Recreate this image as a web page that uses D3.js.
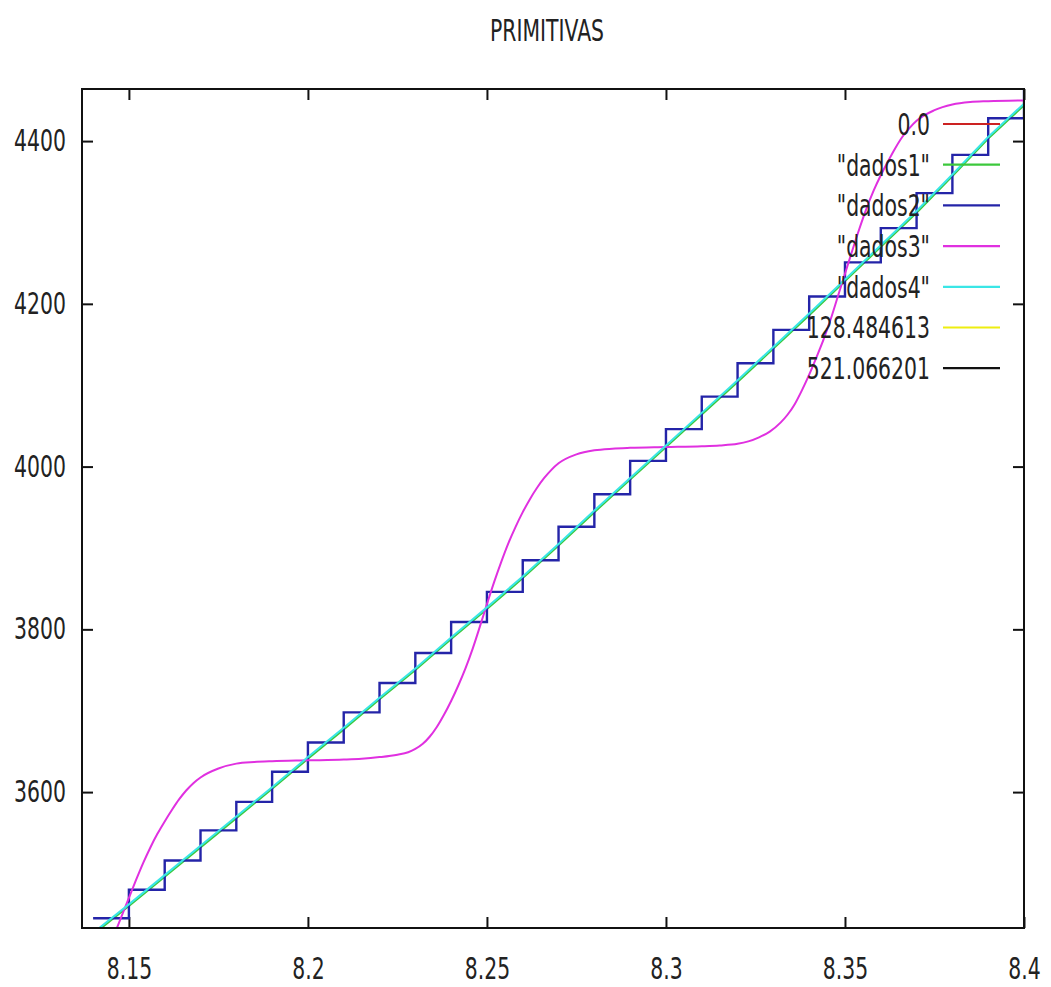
<!DOCTYPE html>
<html>
<head>
<meta charset="utf-8">
<script src="https://cdn.jsdelivr.net/npm/d3@7"></script>
<style>
  html, body { margin: 0; padding: 0; background: #fff; }
  svg { display: block; }
  text { font-family: "DejaVu Sans", sans-serif; fill: #222; }
</style>
</head>
<body>
<svg id="chart" width="1051" height="987"></svg>
<script>
// ---------------- data ----------------
const title = "PRIMITIVAS";
const xTicks = [8.15, 8.2, 8.25, 8.3, 8.35, 8.4];
const xTickLabels = ["8.15", "8.2", "8.25", "8.3", "8.35", "8.4"];
const yTicks = [3600, 3800, 4000, 4200, 4400];
const yTickLabels = ["3600", "3800", "4000", "4200", "4400"];
const xDomain = [8.1369, 8.4];
const yDomain = [3433, 4464];

// sample abscissas for dados1 / dados2 / dados4
const xs = [8.14, 8.15, 8.16, 8.17, 8.18, 8.19, 8.20, 8.21, 8.22, 8.23, 8.24,
            8.25, 8.26, 8.27, 8.28, 8.29, 8.30, 8.31, 8.32, 8.33, 8.34,
            8.35, 8.36, 8.37, 8.38, 8.39, 8.40];
// "dados1" (green) – almost identical to dados4
const dados1 = [3425, 3460, 3496, 3532, 3568, 3604, 3641, 3677, 3714, 3750, 3788,
                3825, 3863, 3903, 3944, 3984, 4024, 4064, 4104, 4145, 4186,
                4228, 4270, 4312, 4357, 4403, 4444];
// "dados2" (blue) – step function
const dados2 = [3445, 3480, 3516, 3553, 3588, 3625, 3661, 3698, 3734, 3771, 3809,
                3846, 3885, 3926, 3966, 4007, 4046, 4086, 4127, 4168, 4209,
                4251, 4293, 4336, 4383, 4428, 4464];
// "dados4" (cyan)
const dados4 = [3427, 3462, 3498, 3534, 3570, 3606, 3643, 3679, 3716, 3752, 3790,
                3827, 3865, 3905, 3946, 3986, 4026, 4066, 4106, 4147, 4188,
                4230, 4272, 4314, 4359, 4405, 4446];
// "dados3" (magenta)
const dados3X = [8.140, 8.142, 8.144, 8.146, 8.148, 8.150, 8.152, 8.154, 8.156, 8.158,
                 8.160, 8.162, 8.164, 8.166, 8.168, 8.170, 8.175, 8.180, 8.185, 8.190,
                 8.200, 8.210, 8.215, 8.220, 8.225, 8.228, 8.230, 8.232, 8.234, 8.236,
                 8.238, 8.240, 8.242, 8.244, 8.246, 8.248, 8.250, 8.252, 8.254, 8.256,
                 8.258, 8.260, 8.262, 8.264, 8.266, 8.268, 8.270, 8.275, 8.280, 8.285,
                 8.290, 8.300, 8.310, 8.315, 8.320, 8.323, 8.326, 8.329, 8.332, 8.334,
                 8.336, 8.338, 8.340, 8.342, 8.344, 8.346, 8.348, 8.350, 8.352, 8.354,
                 8.356, 8.358, 8.360, 8.362, 8.364, 8.366, 8.368, 8.370, 8.375, 8.380,
                 8.385, 8.390, 8.400];
const dados3Y = [3374, 3389, 3406, 3426, 3448, 3470, 3492, 3513, 3532, 3549,
                 3564, 3578, 3591, 3602, 3611, 3618, 3629, 3635, 3637, 3638,
                 3639, 3640, 3641, 3643, 3646, 3649, 3653, 3659, 3668, 3680,
                 3695, 3712, 3731, 3752, 3776, 3803, 3831, 3858, 3883, 3906,
                 3926, 3944, 3960, 3974, 3986, 3996, 4004, 4015, 4020, 4022,
                 4023, 4024, 4025, 4026, 4028, 4031, 4036, 4043, 4054, 4064,
                 4077, 4094, 4113, 4134, 4156, 4181, 4209, 4237, 4265, 4292,
                 4317, 4339, 4358, 4375, 4391, 4405, 4416, 4425, 4438, 4445,
                 4448, 4449, 4450];
// constant functions (outside the visible range)
const constNames = ["0.0", "128.484613", "521.066201"];
const constValues = [0.0, 128.484613, 521.066201];

const legendNames = ["0.0", "\"dados1\"", "\"dados2\"", "\"dados3\"", "\"dados4\"", "128.484613", "521.066201"];
const legendColors = ["#cc2222", "#3cc83c", "#2424a8", "#e030e0", "#3ae6e6", "#eeee10", "#111111"];

// ---------------- drawing ----------------
const SX = 0.68;       // horizontal squeeze of the lettering
const FS = 30;
const svg = d3.select("#chart");
const L = 82, R = 1024, T = 89, B = 928;

const x = d3.scaleLinear().domain(xDomain).range([L, R]);
const y = d3.scaleLinear().domain(yDomain).range([B, T]);

svg.append("defs").append("clipPath").attr("id", "clip")
  .append("rect").attr("x", L).attr("y", T).attr("width", R - L).attr("height", B - T);

// title
svg.append("text")
  .attr("transform", `translate(547,41) scale(${SX},1)`)
  .attr("text-anchor", "middle")
  .style("font-size", FS + "px")
  .text(title);

// axes
function styleAxis(g) {
  g.select(".domain").remove();
  g.selectAll(".tick line").attr("stroke", "#111").attr("stroke-width", 2);
  g.selectAll("text").style("font-size", FS + "px").attr("fill", "#222");
}
const xAxis = svg.append("g").attr("transform", `translate(0,${B})`)
  .call(d3.axisBottom(x).tickValues(xTicks).tickSize(-11)
        .tickFormat((d, i) => xTickLabels[i]).tickPadding(30));
styleAxis(xAxis);
xAxis.selectAll("text").attr("transform", `scale(${SX},1)`);

const xAxisTop = svg.append("g").attr("transform", `translate(0,${T})`)
  .call(d3.axisTop(x).tickValues(xTicks).tickSize(-11).tickFormat(""));
styleAxis(xAxisTop);

const yAxis = svg.append("g").attr("transform", `translate(${L},0)`)
  .call(d3.axisLeft(y).tickValues(yTicks).tickSize(-11)
        .tickFormat((d, i) => yTickLabels[i]));
styleAxis(yAxis);
yAxis.selectAll("text").attr("x", -16 / SX).attr("transform", `scale(${SX},1)`);

const yAxisRight = svg.append("g").attr("transform", `translate(${R},0)`)
  .call(d3.axisRight(y).tickValues(yTicks).tickSize(-11).tickFormat(""));
styleAxis(yAxisRight);

// series
const plot = svg.append("g").attr("clip-path", "url(#clip)");
const line = d3.line().x(d => x(d[0])).y(d => y(d[1]));
const stepGen = d3.line().x(d => x(d[0])).y(d => y(d[1])).curve(d3.curveStepAfter);
const smooth = d3.line().x(d => x(d[0])).y(d => y(d[1])).curve(d3.curveMonotoneX);

function constSeries(v) { return [[xDomain[0], v], [xDomain[1], v]]; }

// 0.0
plot.append("path").attr("d", line(constSeries(constValues[0])))
  .attr("fill", "none").attr("stroke", legendColors[0]).attr("stroke-width", 2);
// dados1
plot.append("path").attr("d", line(xs.map((v, i) => [v, dados1[i]])))
  .attr("fill", "none").attr("stroke", legendColors[1]).attr("stroke-width", 2);
// dados2
plot.append("path").attr("d", stepGen(xs.map((v, i) => [v, dados2[i]])))
  .attr("fill", "none").attr("stroke", legendColors[2]).attr("stroke-width", 2.4);
// dados3
plot.append("path").attr("d", smooth(dados3X.map((v, i) => [v, dados3Y[i]])))
  .attr("fill", "none").attr("stroke", legendColors[3]).attr("stroke-width", 2);
// dados4
plot.append("path").attr("d", line(xs.map((v, i) => [v, dados4[i]])))
  .attr("fill", "none").attr("stroke", legendColors[4]).attr("stroke-width", 2);
// constants 128.48 and 521.07
plot.append("path").attr("d", line(constSeries(constValues[1])))
  .attr("fill", "none").attr("stroke", legendColors[5]).attr("stroke-width", 2);
plot.append("path").attr("d", line(constSeries(constValues[2])))
  .attr("fill", "none").attr("stroke", legendColors[6]).attr("stroke-width", 2);

// legend
const leg = svg.append("g");
legendNames.forEach((name, i) => {
  const cy = 124 + i * 40.7;
  leg.append("text")
    .attr("transform", `translate(930,${cy}) scale(${SX},1)`)
    .attr("text-anchor", "end")
    .attr("dy", "0.36em")
    .style("font-size", FS + "px")
    .text(name);
  leg.append("line")
    .attr("x1", 943).attr("x2", 1000).attr("y1", cy).attr("y2", cy)
    .attr("stroke", legendColors[i]).attr("stroke-width", 2.2);
});

// frame
svg.append("rect").attr("x", L).attr("y", T).attr("width", R - L).attr("height", B - T)
  .attr("fill", "none").attr("stroke", "#111").attr("stroke-width", 2);
</script>
</body>
</html>
